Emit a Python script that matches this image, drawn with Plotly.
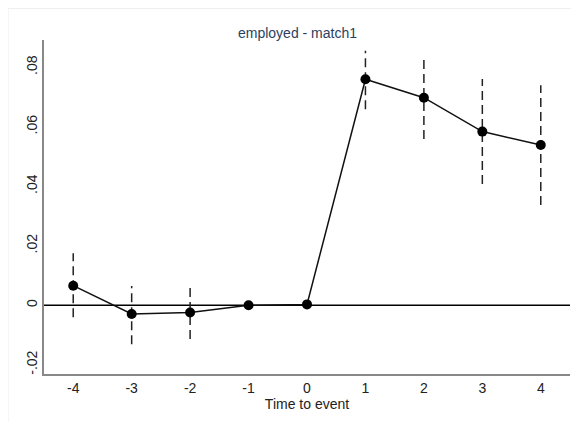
import plotly.graph_objects as go

periods = [-4, -3, -2, -1, 0, 1, 2, 3, 4]
x_ticktext = ["-4", "-3", "-2", "-1", "0", "1", "2", "3", "4"]
coef = [0.0066, -0.0029, -0.0024, 0.0, 0.0003, 0.0760, 0.0698, 0.0584, 0.0539]
ci_low = [-0.0040, -0.0131, -0.0113, None, None, 0.0659, 0.0559, 0.0408, 0.0337]
ci_high = [0.0175, 0.0065, 0.0068, None, None, 0.0856, 0.0834, 0.0761, 0.0740]

y_tickvals = [-0.02, 0, 0.02, 0.04, 0.06, 0.08]
y_ticktext = ["-.02", "0", ".02", ".04", ".06", ".08"]

ci_x, ci_y = [], []
for p, lo, hi in zip(periods, ci_low, ci_high):
    if lo is None:
        continue
    ci_x += [p, p, None]
    ci_y += [lo, hi, None]

fig = go.Figure()
fig.add_trace(go.Scatter(x=ci_x, y=ci_y, mode="lines",
                         line=dict(color="#222222", width=1.5, dash="9px,5px"),
                         hoverinfo="skip", showlegend=False))
fig.add_trace(go.Scatter(x=periods, y=coef, mode="lines+markers",
                         line=dict(color="#111111", width=1.5),
                         marker=dict(color="black", size=10),
                         showlegend=False))

fig.add_shape(type="line", xref="paper", x0=0, x1=1, yref="y", y0=0, y1=0,
              line=dict(color="black", width=1.5), layer="below")
fig.add_shape(type="rect", xref="paper", yref="paper",
              x0=-0.0684, x1=1.05, y0=-0.2, y1=1.094,
              line=dict(color="#eeeeee", width=1))

fig.update_layout(
    width=579, height=422,
    margin=dict(l=36, r=17, t=32, b=56),
    paper_bgcolor="white", plot_bgcolor="white",
    font=dict(family="Liberation Sans, Arial, sans-serif", size=14, color="#222222"),
    title=dict(text="employed - match1", x=0.5, xanchor="center",
               y=1 - 25 / 422, yanchor="middle",
               font=dict(size=14, color="#2a3f5f")),
)
fig.update_xaxes(range=[-4.5, 4.5], tickvals=periods, ticktext=x_ticktext,
                 showgrid=False, zeroline=False,
                 showline=True, linecolor="#888888", linewidth=1.5,
                 ticks="", ticklen=0,
                 title=dict(text="Time to event", standoff=3, font=dict(size=14)))
fig.update_yaxes(range=[-0.0231, 0.0892], tickvals=y_tickvals, ticktext=y_ticktext,
                 tickangle=-90, showgrid=False, zeroline=False,
                 showline=True, linecolor="#888888", linewidth=1.5,
                 ticks="", ticklen=0)

fig.write_html("out.html")
